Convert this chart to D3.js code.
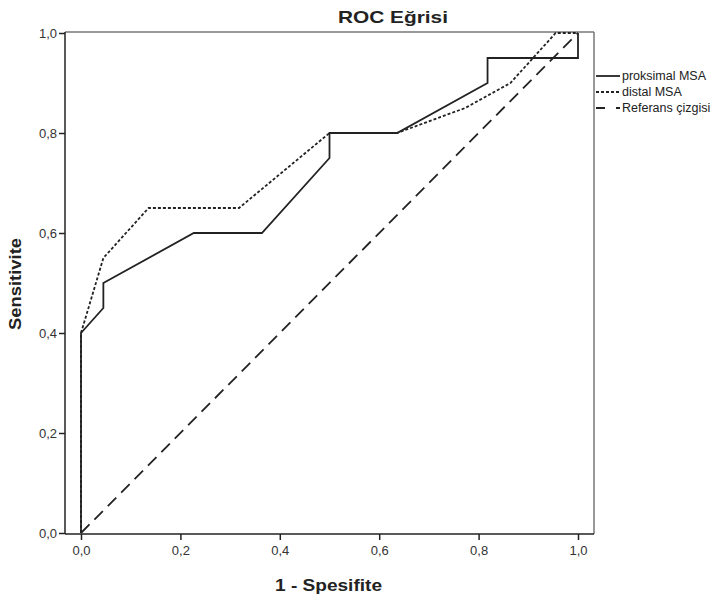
<!DOCTYPE html>
<html>
<head>
<meta charset="utf-8">
<title>ROC Eğrisi</title>
<script src="https://d3js.org/d3.v7.min.js"></script>
<style>
  body { margin: 0; background: #fff; }
  text { font-family: "Liberation Sans", Arial, sans-serif; }
</style>
</head>
<body>
<svg width="725" height="599"></svg>
<script>
// 1 - specificity / sensitivity pairs
var proksimalX = [0, 0, 0.045, 0.045, 0.227, 0.364, 0.5, 0.5, 0.636, 0.818, 0.818, 1, 1];
var proksimalY = [0, 0.4, 0.45, 0.5, 0.6, 0.6, 0.75, 0.8, 0.8, 0.9, 0.95, 0.95, 1];
var distalX = [0, 0, 0.045, 0.136, 0.318, 0.5, 0.636, 0.773, 0.864, 0.955, 1];
var distalY = [0, 0.4, 0.55, 0.65, 0.65, 0.8, 0.8, 0.85, 0.9, 1, 1];
var refX = [0, 1];
var refY = [0, 1];
var ticks = [0, 0.2, 0.4, 0.6, 0.8, 1.0];
var legendNames = ["proksimal MSA", "distal MSA", "Referans çizgisi"];

var svg = d3.select("svg");

var x = d3.scaleLinear().domain([0, 1]).range([81, 578]);
var y = d3.scaleLinear().domain([0, 1]).range([533, 33]);

var fmt = function(d) { return d3.format(".1f")(d).replace(".", ","); };

// frame (top and right)
svg.append("line").attr("x1", 65).attr("x2", 594).attr("y1", 32).attr("y2", 32)
  .attr("stroke", "#777").attr("stroke-width", 1.5);
svg.append("line").attr("x1", 594).attr("x2", 594).attr("y1", 32).attr("y2", 534)
  .attr("stroke", "#777").attr("stroke-width", 1.5);

// axes
var yAxis = svg.append("g").attr("transform", "translate(65,0)")
  .call(d3.axisLeft(y).tickValues(ticks).tickFormat(fmt).tickSize(6).tickSizeOuter(0));
var xAxis = svg.append("g").attr("transform", "translate(0,534)")
  .call(d3.axisBottom(x).tickValues(ticks).tickFormat(fmt).tickSize(6).tickSizeOuter(0));

yAxis.select(".domain").attr("d", "M0,32V534").attr("stroke", "#222").attr("stroke-width", 1.5);
xAxis.select(".domain").attr("d", "M65,0H594").attr("stroke", "#222").attr("stroke-width", 1.5);
svg.selectAll(".tick line").attr("stroke", "#222").attr("stroke-width", 1.5);
svg.selectAll(".tick text").attr("fill", "#333").style("font-size", "13px")
  .style("font-family", "'Liberation Sans', Arial, sans-serif");
yAxis.selectAll(".tick text").attr("x", -8);
xAxis.selectAll(".tick text").attr("y", 12);

var line = d3.line().x(function(d) { return x(d[0]); }).y(function(d) { return y(d[1]); });

var series = [
  { xs: proksimalX, ys: proksimalY, dash: null, legDash: null },
  { xs: distalX, ys: distalY, dash: "3,2", legDash: "3,2" },
  { xs: refX, ys: refY, dash: "12,7", legDash: "9,11,4,30" }
];

series.forEach(function(s) {
  var pts = s.xs.map(function(v, i) { return [v, s.ys[i]]; });
  svg.append("path")
    .attr("d", line(pts))
    .attr("fill", "none")
    .attr("stroke", "#222")
    .attr("stroke-width", 1.8)
    .attr("stroke-dasharray", s.dash);
});

// legend
var leg = svg.append("g");
legendNames.forEach(function(name, i) {
  var ly = 76 + i * 16;
  leg.append("line").attr("x1", 596).attr("x2", 620).attr("y1", ly).attr("y2", ly)
    .attr("stroke", "#222").attr("stroke-width", 1.8)
    .attr("stroke-dasharray", series[i].legDash);
  leg.append("text").attr("x", 622).attr("y", ly + 4).text(name)
    .style("font-size", "12.5px").attr("fill", "#222");
});

// titles
svg.append("text").attr("x", 338).attr("y", 23)
  .attr("textLength", 110).attr("lengthAdjust", "spacingAndGlyphs")
  .style("font-size", "17px").style("font-weight", "bold").attr("fill", "#222")
  .text("ROC Eğrisi");

svg.append("text").attr("x", 275).attr("y", 591)
  .attr("textLength", 107).attr("lengthAdjust", "spacingAndGlyphs")
  .style("font-size", "17px").style("font-weight", "bold").attr("fill", "#222")
  .text("1 - Spesifite");

svg.append("text").attr("transform", "translate(21,330) rotate(-90)")
  .attr("textLength", 92).attr("lengthAdjust", "spacingAndGlyphs")
  .style("font-size", "16px").style("font-weight", "bold").attr("fill", "#222")
  .text("Sensitivite");
</script>
</body>
</html>
